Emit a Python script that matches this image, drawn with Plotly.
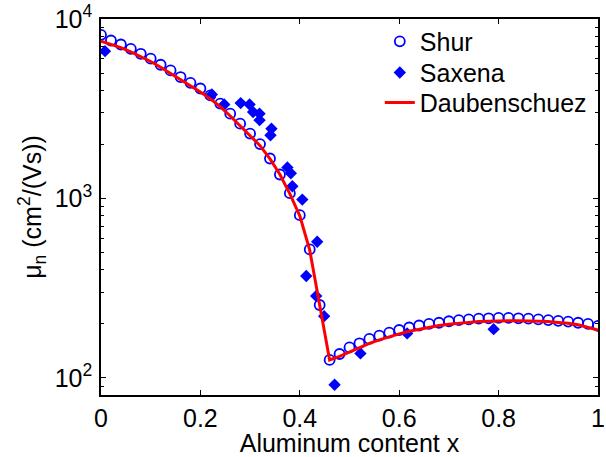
import plotly.graph_objects as go

# Shur (open circles), x = 0 .. 1 step 0.02
shur_x = [round(i * 0.02, 2) for i in range(51)]
shur_y = [8160, 7590, 7210, 6820, 6400, 6010, 5560, 5170, 4750, 4410,
          4100, 3750, 3380, 2970, 2610, 2300, 2010, 1670, 1360, 1070,
          807, 520, 255, 126, 136, 148, 156, 165, 172, 179,
          185, 191, 196, 200, 203, 207, 210, 212, 214, 215,
          216, 216, 215, 214, 212, 210, 208, 206, 203, 200, 195]

# Saxena (filled diamonds)
sax_x = [0.008, 0.223, 0.248, 0.281, 0.299, 0.306, 0.319, 0.319, 0.343, 0.341,
         0.375, 0.382, 0.385, 0.405, 0.435, 0.413, 0.433, 0.449, 0.470, 0.522,
         0.616, 0.790]
sax_y = [6620, 3800, 3340, 3400, 3340, 3030, 2970, 2730, 2450, 2250,
         1490, 1380, 1170, 986, 574, 370, 286, 221, 91.6, 137,
         177, 187]

# Daubenschuez (red line)
dau_x = [round(i * 0.02, 2) for i in range(51)]
dau_y = [7530, 7250, 6920, 6560, 6180, 5800, 5380, 4980, 4580, 4220,
         3920, 3590, 3250, 2880, 2540, 2250, 1970, 1660, 1360, 1060,
         800, 515, 250, 126, 132, 140, 148, 156, 163, 170,
         176, 182, 187, 192, 196, 199, 202, 204, 206, 207,
         208, 208, 208, 208, 207, 206, 204, 202, 198, 192, 185]

x_ticks = [0, 0.2, 0.4, 0.6, 0.8, 1]
x_ticktext = ["0", "0.2", "0.4", "0.6", "0.8", "1"]
y_ticks = [100, 1000, 10000]
y_ticktext = ["10<sup>2</sup>", "10<sup>3</sup>", "10<sup>4</sup>"]
y_minor = [80, 90] + [k * 100 for k in range(2, 10)] + [k * 1000 for k in range(2, 10)]

FONT = "Liberation Sans, Arial, Helvetica, sans-serif"
FS = 25

fig = go.Figure()
fig.add_trace(go.Scatter(
    x=shur_x, y=shur_y, mode="markers", name="Shur", legend="legend",
    marker=dict(symbol="circle-open", size=10, color="#0000ff",
                line=dict(width=1.8, color="#0000ff"))))
fig.add_trace(go.Scatter(
    x=sax_x, y=sax_y, mode="markers", name="Saxena", legend="legend2",
    marker=dict(symbol="diamond", size=9.5, color="#0000ff", line=dict(width=0))))
fig.add_trace(go.Scatter(
    x=dau_x, y=dau_y, mode="lines", name="Daubenschuez", legend="legend3",
    line=dict(color="#ff0000", width=3)))

leg_common = dict(x=0.561, xanchor="left", yanchor="middle",
                  bgcolor="rgba(0,0,0,0)", borderwidth=0,
                  font=dict(family=FONT, size=FS, color="black"))

fig.update_layout(
    width=606, height=457,
    margin=dict(l=101, r=1, t=18.5, b=62),
    paper_bgcolor="white", plot_bgcolor="white",
    font=dict(family=FONT, size=FS, color="black"),
    showlegend=True,
    legend=dict(y=0.9400, **leg_common),
    legend2=dict(y=0.8570, **leg_common),
    legend3=dict(y=0.7770, **leg_common),
)

fig.update_xaxes(
    range=[0, 1], tickmode="array", tickvals=x_ticks, ticktext=x_ticktext,
    ticks="inside", ticklen=5, tickwidth=1, tickcolor="black",
    showline=True, linewidth=1.5, linecolor="black", mirror="ticks",
    showgrid=False, zeroline=False, ticklabelstandoff=0,
    ticklabeloverflow="allow",
    tickfont=dict(family=FONT, size=FS, color="black"),
    title=dict(text="Aluminum content x", standoff=4,
               font=dict(family=FONT, size=FS, color="black")))

fig.update_yaxes(
    type="log", range=[1.905, 4], tickmode="array", tickvals=y_ticks, ticktext=y_ticktext,
    ticks="inside", ticklen=5, tickwidth=1, tickcolor="black",
    minor=dict(tickmode="array", tickvals=y_minor, ticks="inside", ticklen=3,
               tickwidth=1, tickcolor="black", showgrid=False),
    showline=True, linewidth=1.5, linecolor="black", mirror="ticks",
    showgrid=False, zeroline=False, ticklabelstandoff=2,
    tickfont=dict(family=FONT, size=FS, color="black"),
    title=dict(text="μ<sub>n</sub> (cm<sup>2</sup>/(Vs))", standoff=6,
               font=dict(family=FONT, size=FS, color="black")))

fig.write_html(
    "out.html",
    config={"displayModeBar": False},
    post_script="document.body.style.margin='0';document.body.style.overflow='hidden';")
